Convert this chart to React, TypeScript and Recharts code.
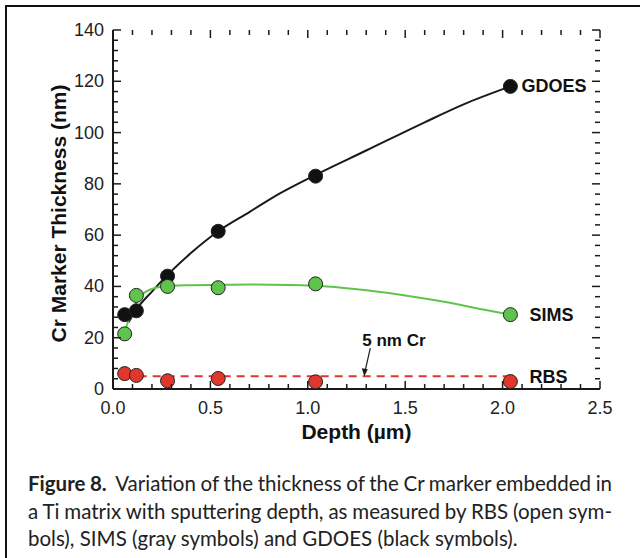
import {
  ComposedChart,
  Line,
  Scatter,
  XAxis,
  YAxis,
  ReferenceDot,
} from "recharts";

// measured points
const depth = [0.06, 0.12, 0.28, 0.54, 1.04, 2.04];
const gdoes = [29, 30.5, 44, 61.5, 83, 118];
const sims = [21.5, 36.5, 40, 39.5, 41, 29];
const rbs = [6, 5.3, 3.2, 4.1, 2.8, 2.9];

// smooth guide curves
const gdoesFitDepth = [0.08, 0.12, 0.2, 0.28, 0.4, 0.54, 0.7, 0.85, 1.04, 1.3, 1.6, 1.8, 2.04];
const gdoesFit = [26, 31, 38, 44.5, 53, 61.5, 69, 76, 83.5, 93, 104, 111, 118];
const simsFitDepth = [0.06, 0.08, 0.1, 0.13, 0.16, 0.2, 0.25, 0.3, 0.4, 0.5, 0.7, 0.9, 1.1, 1.3, 1.5, 1.7, 1.9, 2.04];
const simsFit = [22, 27, 31, 35, 37.5, 39, 40, 40.3, 40.5, 40.6, 40.8, 40.6, 40, 38.5, 36.5, 34, 31, 29];
const crDepth = [0.06, 2.04];
const crThickness = [5, 5];

const xMajor = [0, 0.5, 1, 1.5, 2, 2.5];
const yMajor = [0, 20, 40, 60, 80, 100, 120, 140];
const xTicks = Array.from({ length: 26 }, (_, i) => i / 10);
const yTicks = Array.from({ length: 36 }, (_, i) => i * 4);

const zip = (xs: number[], ys: number[]) => xs.map((x, i) => ({ x, y: ys[i] }));

const gdoesPts = zip(depth, gdoes);
const simsPts = zip(depth, sims);
const rbsPts = zip(depth, rbs);

const INK = "#1a1a1a";
const GREEN = "#5fc44c";
const RED = "#e0362c";
const FONT = "'Liberation Sans', Arial, sans-serif";
const GAP = 10;

// plot frame (chart margins)
const PLOT_TOP = 30;
const PLOT_RIGHT = 600;

const isMajor = (v: number, list: number[]) => list.some((m) => Math.abs(m - v) < 1e-6);

// bottom ticks also mirror onto the top edge of the frame
const BottomTick = (props: any) => {
  const { x, y, payload } = props;
  const len = isMajor(payload.value, xMajor) ? 8 : 5;
  const ay = y - GAP;
  return (
    <g>
      <line x1={x} x2={x} y1={ay} y2={ay - len} stroke={INK} strokeWidth={1.5} />
      <line x1={x} x2={x} y1={PLOT_TOP} y2={PLOT_TOP + len} stroke={INK} strokeWidth={1.5} />
      {len === 8 && (
        <text x={x} y={ay + 19} textAnchor="middle" dominantBaseline="central" fontSize={18} fill="#222" fontFamily={FONT}>
          {payload.value.toFixed(1)}
        </text>
      )}
    </g>
  );
};

// left ticks also mirror onto the right edge
const LeftTick = (props: any) => {
  const { x, y, payload } = props;
  const len = isMajor(payload.value, yMajor) ? 8 : 5;
  const ax = x + GAP;
  return (
    <g>
      <line x1={ax} x2={ax + len} y1={y} y2={y} stroke={INK} strokeWidth={1.5} />
      <line x1={PLOT_RIGHT} x2={PLOT_RIGHT - len} y1={y} y2={y} stroke={INK} strokeWidth={1.5} />
      {len === 8 && (
        <text x={ax - 9} y={y} textAnchor="end" dominantBaseline="central" fontSize={18} fill="#222" fontFamily={FONT}>
          {payload.value}
        </text>
      )}
    </g>
  );
};

const dot = (fill: string) => (p: any) => (
  <circle cx={p.cx} cy={p.cy} r={7} fill={fill} stroke="#222" strokeWidth={1} />
);

const seriesLabel = (text: string, dx: number, dy: number) => (p: any) => (
  <text x={p.cx + dx} y={p.cy + dy} dominantBaseline="central" fontSize={18} fontWeight="bold" fill="#111" fontFamily={FONT}>
    {text}
  </text>
);

const CrNote = (p: any) => {
  const { cx, cy } = p;
  return (
    <g>
      <line x1={cx + 6} y1={cy - 28} x2={cx + 1} y2={cy - 6} stroke={INK} strokeWidth={1.2} />
      <path d={`M ${cx} ${cy} L ${cx - 2.5} ${cy - 8} L ${cx + 3.5} ${cy - 7} Z`} fill={INK} />
      <text x={cx - 2} y={cy - 36} dominantBaseline="central" fontSize={17} fontWeight="bold" fill="#111" fontFamily={FONT}>
        5 nm Cr
      </text>
    </g>
  );
};

const last = depth.length - 1;

const justified = { textAlign: "justify" as const, textAlignLast: "justify" as const, wordSpacing: "-2px" };

const App = () => {
  return (
    <div style={{ position: "absolute", left: 0, top: 0, width: 640, height: 558, background: "#fff", overflow: "hidden" }}>
      <div style={{ position: "absolute", left: 5, top: 5, right: 0, bottom: 0, borderTop: "2px solid #111", borderLeft: "2px solid #111" }} />
      <div style={{ position: "absolute", left: 0, top: 0 }}>
        <ComposedChart width={640} height={460} margin={{ top: PLOT_TOP, right: 640 - PLOT_RIGHT, bottom: 0, left: 0 }}>
          <XAxis
            dataKey="x"
            type="number"
            domain={[0, 2.5]}
            ticks={xTicks}
            interval={0}
            height={71}
            tickSize={0}
            tickMargin={GAP}
            tickLine={false}
            axisLine={{ stroke: INK, strokeWidth: 2 }}
            tick={<BottomTick />}
            label={{ value: "Depth (\u00b5m)", position: "insideBottom", offset: 21, fontSize: 21, fontWeight: "bold", fill: "#111", fontFamily: FONT }}
          />
          <XAxis
            xAxisId="top"
            orientation="top"
            type="number"
            domain={[0, 2.5]}
            height={0}
            tick={false}
            tickLine={false}
            axisLine={{ stroke: INK, strokeWidth: 2 }}
          />
          <YAxis
            type="number"
            domain={[0, 140]}
            ticks={yTicks}
            interval={0}
            width={113}
            tickSize={0}
            tickMargin={GAP}
            tickLine={false}
            axisLine={{ stroke: INK, strokeWidth: 2 }}
            tick={<LeftTick />}
            label={{ value: "Cr Marker Thickness (nm)", angle: -90, position: "center", dx: 2, dy: 4, fontSize: 21, fontWeight: "bold", fill: "#111", fontFamily: FONT }}
          />
          <YAxis
            yAxisId="right"
            orientation="right"
            type="number"
            domain={[0, 140]}
            width={0}
            tick={false}
            tickLine={false}
            axisLine={{ stroke: INK, strokeWidth: 2 }}
          />

          <Line data={zip(gdoesFitDepth, gdoesFit)} dataKey="y" type="monotone" stroke={INK} strokeWidth={2} dot={false} isAnimationActive={false} />
          <Line data={zip(simsFitDepth, simsFit)} dataKey="y" type="monotone" stroke={GREEN} strokeWidth={2} dot={false} isAnimationActive={false} />
          <Line data={zip(crDepth, crThickness)} dataKey="y" type="linear" stroke={RED} strokeWidth={2} strokeDasharray="8 6" dot={false} isAnimationActive={false} />

          <Scatter data={gdoesPts} dataKey="y" shape={dot("#111")} isAnimationActive={false} />
          <Scatter data={simsPts} dataKey="y" shape={dot(GREEN)} isAnimationActive={false} />
          <Scatter data={rbsPts} dataKey="y" shape={dot(RED)} isAnimationActive={false} />

          <ReferenceDot x={depth[last]} y={gdoes[last]} r={0} shape={seriesLabel("GDOES", 11, 0)} />
          <ReferenceDot x={depth[last]} y={sims[last]} r={0} shape={seriesLabel("SIMS", 19, 0)} />
          <ReferenceDot x={depth[last]} y={rbs[last]} r={0} shape={seriesLabel("RBS", 19, -5)} />
          <ReferenceDot x={1.29} y={crThickness[0]} r={0} shape={CrNote} />
        </ComposedChart>
      </div>
      <div style={{ position: "absolute", left: 28, top: 470, width: 584, fontFamily: "Lato, 'Open Sans', sans-serif", fontSize: 20.5, color: "#222", lineHeight: "27.5px", whiteSpace: "nowrap" }}>
        <div style={justified}>
          <b>Figure 8.</b>&nbsp; Variation of the thickness of the Cr marker embedded in
        </div>
        <div style={justified}>
          a Ti matrix with sputtering depth, as measured by RBS (open sym-
        </div>
        <div>bols), SIMS (gray symbols) and GDOES (black symbols).</div>
      </div>
    </div>
  );
};

export default App;
